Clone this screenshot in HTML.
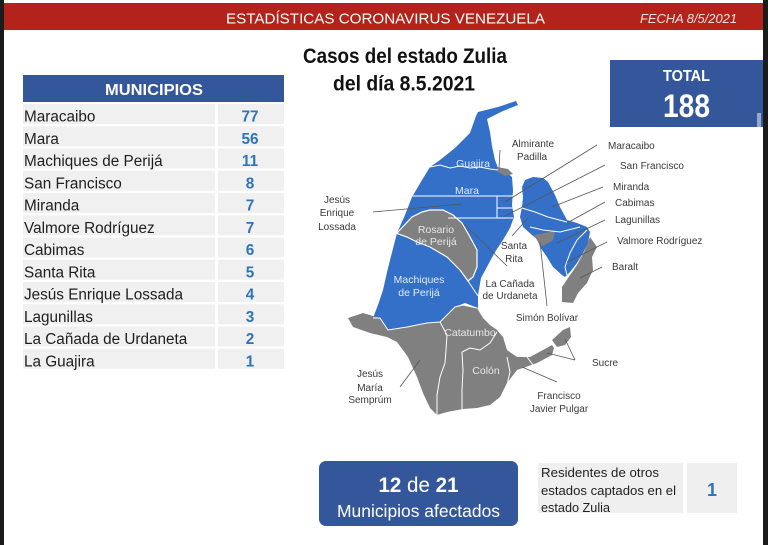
<!DOCTYPE html>
<html><head><meta charset="utf-8"><style>
html,body{margin:0;padding:0;background:#fff;}
svg{display:block;}
text{font-family:"Liberation Sans",sans-serif;}
</style></head><body>
<svg width="768" height="545" viewBox="0 0 768 545" xmlns="http://www.w3.org/2000/svg">
<rect width="768" height="545" fill="#fff"/>
<!-- header -->
<rect x="0" y="3" width="768" height="27" fill="#b3221b"/>
<text x="385.5" y="23.5" font-size="15" fill="#fff" text-anchor="middle" textLength="319" lengthAdjust="spacingAndGlyphs">ESTADÍSTICAS CORONAVIRUS VENEZUELA</text>
<text x="640" y="23" font-size="13" font-style="italic" fill="#f6e4e4" textLength="97" lengthAdjust="spacingAndGlyphs">FECHA 8/5/2021</text>

<!-- title -->
<text x="405" y="63" font-size="21" font-weight="bold" fill="#111" text-anchor="middle" textLength="204" lengthAdjust="spacingAndGlyphs">Casos del estado Zulia</text>
<text x="404" y="90.5" font-size="21" font-weight="bold" fill="#111" text-anchor="middle" textLength="142" lengthAdjust="spacingAndGlyphs">del día 8.5.2021</text>

<!-- municipios table -->
<rect x="23" y="75" width="261" height="27" fill="#34579b"/>
<text x="154" y="95" font-size="16" font-weight="bold" fill="#fff" text-anchor="middle" textLength="98" lengthAdjust="spacingAndGlyphs">MUNICIPIOS</text>
<g fill="#f0f0f0">
<rect x="23" y="104" width="192" height="20"/><rect x="218" y="104" width="66" height="20"/>
<rect x="23" y="126.25" width="192" height="20"/><rect x="218" y="126.25" width="66" height="20"/>
<rect x="23" y="148.5" width="192" height="20"/><rect x="218" y="148.5" width="66" height="20"/>
<rect x="23" y="170.75" width="192" height="20"/><rect x="218" y="170.75" width="66" height="20"/>
<rect x="23" y="193" width="192" height="20"/><rect x="218" y="193" width="66" height="20"/>
<rect x="23" y="215.25" width="192" height="20"/><rect x="218" y="215.25" width="66" height="20"/>
<rect x="23" y="237.5" width="192" height="20"/><rect x="218" y="237.5" width="66" height="20"/>
<rect x="23" y="259.75" width="192" height="20"/><rect x="218" y="259.75" width="66" height="20"/>
<rect x="23" y="282" width="192" height="20"/><rect x="218" y="282" width="66" height="20"/>
<rect x="23" y="304.25" width="192" height="20"/><rect x="218" y="304.25" width="66" height="20"/>
<rect x="23" y="326.5" width="192" height="20"/><rect x="218" y="326.5" width="66" height="20"/>
<rect x="23" y="348.75" width="192" height="20"/><rect x="218" y="348.75" width="66" height="20"/>
</g>
<g font-size="15.3" fill="#1e1e1e">
<text x="24" y="121.5">Maracaibo</text>
<text x="24" y="143.75">Mara</text>
<text x="24" y="166">Machiques de Perijá</text>
<text x="24" y="188.25">San Francisco</text>
<text x="24" y="210.5">Miranda</text>
<text x="24" y="232.75">Valmore Rodríguez</text>
<text x="24" y="255">Cabimas</text>
<text x="24" y="277.25">Santa Rita</text>
<text x="24" y="299.5">Jesús Enrique Lossada</text>
<text x="24" y="321.75">Lagunillas</text>
<text x="24" y="344">La Cañada de Urdaneta</text>
<text x="24" y="366.25">La Guajira</text>
</g>
<g font-size="15.3" font-weight="bold" fill="#2e74b8" text-anchor="middle">
<text x="250" y="121.5">77</text>
<text x="250" y="143.75">56</text>
<text x="250" y="166">11</text>
<text x="250" y="188.25">8</text>
<text x="250" y="210.5">7</text>
<text x="250" y="232.75">7</text>
<text x="250" y="255">6</text>
<text x="250" y="277.25">5</text>
<text x="250" y="299.5">4</text>
<text x="250" y="321.75">3</text>
<text x="250" y="344">2</text>
<text x="250" y="366.25">1</text>
</g>

<!-- TOTAL box -->
<rect x="610" y="60" width="153" height="67" fill="#34579b"/>
<text x="686.5" y="81" font-size="16" font-weight="bold" fill="#fff" text-anchor="middle" textLength="47" lengthAdjust="spacingAndGlyphs">TOTAL</text>
<text x="686.5" y="117" font-size="32" font-weight="bold" fill="#fff" text-anchor="middle" textLength="47" lengthAdjust="spacingAndGlyphs">188</text>
<rect x="757" y="113" width="4" height="14" fill="#9aa8c8"/>

<!-- MAP -->
<!-- west blue -->
<polygon fill="#3470c8" points="476,116 478,112 498,107 516,101 518,105 503,111 487,119 490,132 492,146 495,160 498,168 506,172 512,177 513,190 512,205 514,217 510,228 503,240 495,252 488,265 481,278 478,295 478,308 465,303 455,307 440,322 427,323 407,327 388,330 380,318 373,318 378,305 383,290 388,268 397,233 405,215 412,197 422,180 430,167 440,160 455,148 470,133"/>
<!-- Rosario de Perija -->
<polygon fill="#808080" stroke="#fff" stroke-width="1.2" points="390,231 397,233 412,217 422,212 430,210 443,210 453,215 462,223 470,237 477,250 477,267 473,277 468,281 460,270 447,257 430,247 417,242 407,237"/>
<!-- Almirante Padilla -->
<polygon fill="#808080" points="497,167 508,169 513,174 505,176 498,172"/>
<!-- west white lines -->
<g fill="none" stroke="#fff" stroke-width="1">
<polyline points="430,167 440,165 450,168 460,166 470,168 480,167 490,169 498,170"/>
<line x1="412" y1="196" x2="513" y2="196"/>
<line x1="448" y1="218" x2="513" y2="218"/>
<line x1="497" y1="196" x2="497" y2="218"/>
<line x1="497" y1="208" x2="513" y2="208"/>
<polyline points="468,281 474,290 478,296"/>
</g>

<!-- east blue -->
<polygon fill="#3470c8" points="525,180 533,177 543,178 548,182 555,195 560,207 567,220 577,223 587,227 590,232 588,243 583,253 577,263 570,272 565,277 562,275 553,267 547,257 540,247 538,240 532,235 523,227 520,217 522,207 523,197 522,187"/>
<polygon fill="#808080" points="534,235 555,231 553,240 541,247"/>
<polygon fill="#808080" points="590,237 597,247 592,257 593,270 587,283 578,293 573,303 562,302 562,287 568,278 577,265 584,252"/>
<g fill="none" stroke="#fff" stroke-width="1">
<polyline points="522,208 535,212 548,217 567,222"/>
<polyline points="530,227 543,230 560,232 580,227"/>
<polyline points="587,230 577,240 570,253 565,267 567,275"/>
</g>

<!-- south gray -->
<polygon fill="#808080" points="348,318 363,313 380,318 388,330 407,327 427,323 440,322 455,307 463,305 477,308 483,318 490,325 497,330 503,337 507,350 517,357 530,357 543,350 552,345 554,348 552,355 537,363 517,370 507,383 500,397 490,405 477,408 463,409 447,412 437,415 430,408 423,393 417,377 408,357 397,342 387,337 370,333 353,327"/>
<polygon fill="#808080" points="552,340 563,330 570,327 571,337 565,345 557,347"/>
<g fill="none" stroke="#fff" stroke-width="1">
<polyline points="373,318 380,318 388,330 407,327 427,323 440,322 455,307 463,305 477,308"/>
<polyline points="440,322 447,335 446,350 445,363 440,377 437,395 437,415"/>
<polyline points="462,352 470,348 480,350 490,343 497,332"/>
<polyline points="462,352 463,370 462,390 462,410"/>
<polyline points="507,357 510,372 507,385"/>
<polyline points="527,357 533,365"/>
</g>

<!-- in-map labels -->
<g font-size="10.5" fill="#e3ecfa" text-anchor="middle">
<text x="473" y="167">Guajira</text>
<text x="467" y="194">Mara</text>
<text x="419" y="283">Machiques</text>
<text x="419" y="296">de Perijá</text>
</g>
<g font-size="10.5" fill="#e6e6e6" text-anchor="middle">
<text x="436" y="233">Rosario</text>
<text x="436" y="245">de Perijá</text>
<text x="470" y="336">Catatumbo</text>
<text x="486" y="374">Colón</text>
</g>

<!-- leader lines -->
<g stroke="#555" stroke-width="0.8" fill="none">
<line x1="500" y1="150" x2="499" y2="168"/>
<line x1="597" y1="145" x2="505" y2="202"/>
<line x1="605" y1="165" x2="503" y2="217"/>
<line x1="603" y1="187" x2="552" y2="207"/>
<line x1="605" y1="202" x2="567" y2="223"/>
<line x1="605" y1="220" x2="557" y2="243"/>
<line x1="607" y1="242" x2="567" y2="262"/>
<line x1="602" y1="267" x2="580" y2="278"/>
<line x1="512" y1="236" x2="528" y2="218"/>
<line x1="463" y1="223" x2="507" y2="266"/>
<line x1="540" y1="242" x2="547" y2="306"/>
<line x1="373" y1="212" x2="462" y2="204"/>
<line x1="400" y1="387" x2="420" y2="360"/>
<line x1="565" y1="339" x2="575" y2="360"/>
<line x1="547" y1="353" x2="575" y2="360"/>
<line x1="522" y1="367" x2="557" y2="382"/>
</g>

<!-- outside labels -->
<g font-size="10" fill="#3a3a3a">
<text x="533" y="147" text-anchor="middle">Almirante</text>
<text x="532" y="160" text-anchor="middle">Padilla</text>
<text x="608" y="149">Maracaibo</text>
<text x="620" y="169">San Francisco</text>
<text x="613" y="190">Miranda</text>
<text x="615" y="206">Cabimas</text>
<text x="615" y="223">Lagunillas</text>
<text x="617" y="244">Valmore Rodríguez</text>
<text x="612" y="270">Baralt</text>
<text x="514" y="249" text-anchor="middle">Santa</text>
<text x="514" y="262" text-anchor="middle">Rita</text>
<text x="510" y="287" text-anchor="middle">La Cañada</text>
<text x="510" y="299" text-anchor="middle">de Urdaneta</text>
<text x="547" y="321" text-anchor="middle">Simón Bolívar</text>
<text x="337" y="203" text-anchor="middle">Jesús</text>
<text x="337" y="216" text-anchor="middle">Enrique</text>
<text x="337" y="230" text-anchor="middle">Lossada</text>
<text x="370" y="377" text-anchor="middle">Jesús</text>
<text x="370" y="391" text-anchor="middle">María</text>
<text x="370" y="403" text-anchor="middle">Semprúm</text>
<text x="592" y="366">Sucre</text>
<text x="559" y="399" text-anchor="middle">Francisco</text>
<text x="559" y="412" text-anchor="middle">Javier Pulgar</text>
</g>

<!-- bottom blue box -->
<rect x="319" y="461" width="199" height="65" rx="7" ry="7" fill="#34579b"/>
<text x="418.5" y="492" font-size="21" fill="#fff" text-anchor="middle" textLength="80" lengthAdjust="spacingAndGlyphs"><tspan font-weight="bold">12</tspan> de <tspan font-weight="bold">21</tspan></text>
<text x="418.5" y="517" font-size="17.5" fill="#fff" text-anchor="middle" textLength="163" lengthAdjust="spacingAndGlyphs">Municipios afectados</text>

<!-- residents box -->
<rect x="538" y="463" width="145" height="50" fill="#efefef"/>
<rect x="687" y="463" width="50" height="50" fill="#efefef"/>
<g font-size="13" fill="#1e1e1e">
<text x="541" y="477" textLength="118" lengthAdjust="spacingAndGlyphs">Residentes de otros</text>
<text x="541" y="495" textLength="135" lengthAdjust="spacingAndGlyphs">estados captados en el</text>
<text x="541" y="512" textLength="69" lengthAdjust="spacingAndGlyphs">estado Zulia</text>
</g>
<text x="712" y="496" font-size="18" font-weight="bold" fill="#2e74b8" text-anchor="middle">1</text>

<!-- dark side borders -->
<rect x="0" y="0" width="4" height="545" fill="#1b1b1b"/>
<rect x="763" y="0" width="5" height="545" fill="#1b1b1b"/>
</svg>
</body></html>
